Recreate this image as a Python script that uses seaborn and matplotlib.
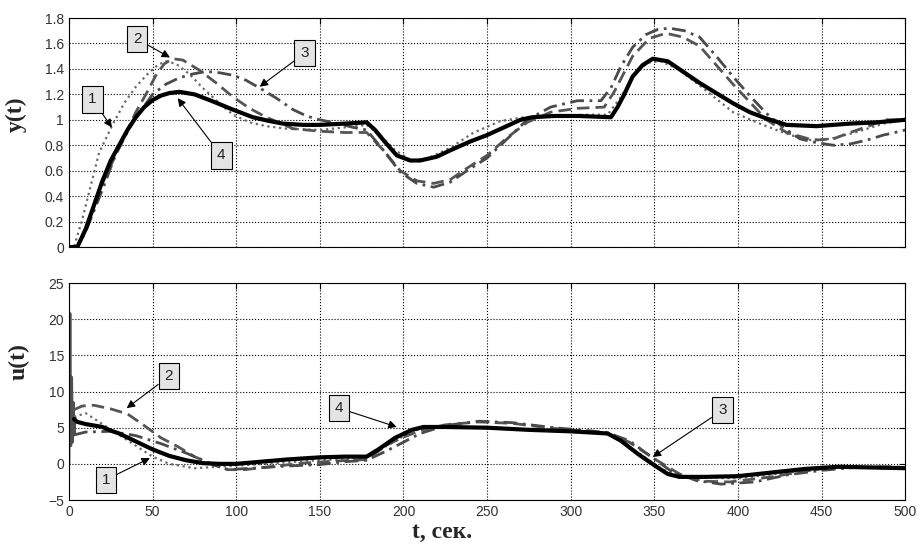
import numpy as np
import matplotlib
matplotlib.use("Agg")
import matplotlib.pyplot as plt
import seaborn as sns

# ---- top panel y(t) ----
y1_t = [0, 3, 8, 13, 18, 26, 33, 40, 47, 53, 58, 64, 72, 80, 90, 98, 108, 118, 130, 150, 165, 178,
        186, 195, 205, 215, 228, 242, 258, 272, 290, 310, 322, 330, 338, 346, 354, 364, 378, 397, 413,
        427, 441, 455, 470, 487, 500]
y1_v = [0, 0, 0.22, 0.48, 0.74, 0.96, 1.13, 1.26, 1.36, 1.43, 1.46, 1.44, 1.36, 1.25, 1.13, 1.04, 0.98,
        0.95, 0.93, 0.92, 0.94, 0.96, 0.88, 0.76, 0.68, 0.7, 0.78, 0.9, 0.99, 1.02, 1.03, 1.04, 1.04, 1.18,
        1.35, 1.45, 1.46, 1.4, 1.26, 1.06, 0.97, 0.9, 0.84, 0.85, 0.9, 0.97, 1.0]

y2_t = [0, 5, 10, 20, 30, 40, 46, 52, 57, 62, 68, 78, 88, 98, 108, 118, 134, 150, 165, 178,
        188, 198, 208, 218, 228, 238, 250, 262, 274, 288, 304, 320, 326, 337, 347, 357, 367, 377, 397,
        417, 429, 445, 457, 467, 478, 488, 500]
y2_v = [0, 0, 0.15, 0.5, 0.78, 1.06, 1.2, 1.35, 1.44, 1.48, 1.47, 1.39, 1.29, 1.18, 1.09, 1.02, 0.93,
        0.91, 0.9, 0.9, 0.76, 0.6, 0.52, 0.5, 0.53, 0.62, 0.72, 0.86, 0.98, 1.06, 1.09, 1.1, 1.22, 1.5,
        1.64, 1.68, 1.65, 1.58, 1.28, 1.0, 0.9, 0.84, 0.85, 0.9, 0.95, 1.0, 1.0]

y3_t = [0, 5, 10, 20, 28, 38, 50, 58, 66, 74, 82, 90, 98, 106, 114, 124, 134, 142, 150, 161, 170, 178,
        188, 198, 208, 218, 228, 238, 250, 262, 274, 288, 304, 318, 324, 330, 337, 345, 352, 359, 368,
        377, 387, 397, 407, 417, 427, 437, 447, 457, 467, 477, 487, 497, 500]
y3_v = [0, 0, 0.12, 0.45, 0.73, 0.98, 1.2, 1.28, 1.33, 1.36, 1.38, 1.37, 1.35, 1.31, 1.25, 1.17, 1.08,
        1.03, 1.0, 0.97, 0.94, 0.92, 0.76, 0.59, 0.5, 0.47, 0.51, 0.6, 0.7, 0.85, 1.0, 1.1, 1.15, 1.15,
        1.25, 1.42, 1.57, 1.67, 1.71, 1.72, 1.7, 1.65, 1.5, 1.34, 1.19, 1.05, 0.94, 0.85, 0.82, 0.8, 0.81,
        0.84, 0.88, 0.91, 0.92]

y4_t = [0, 5, 10, 15, 20, 25, 30, 35, 40, 45, 50, 55, 60, 66, 75, 85, 98, 110, 120, 128, 140, 150, 165,
        178, 183, 188, 196, 204, 210, 220, 228, 240, 250, 260, 270, 277, 290, 305, 324, 328, 332, 337,
        343, 349, 358, 367, 377, 387, 397, 407, 417, 429, 447, 467, 483, 500]
y4_v = [0, 0, 0.14, 0.33, 0.52, 0.68, 0.8, 0.92, 1.02, 1.1, 1.155, 1.19, 1.21, 1.22, 1.2, 1.15, 1.08,
        1.02, 0.99, 0.97, 0.96, 0.96, 0.97, 0.98, 0.92, 0.84, 0.72, 0.68, 0.68, 0.71, 0.76, 0.83, 0.88,
        0.94, 1.0, 1.02, 1.03, 1.03, 1.02, 1.1, 1.2, 1.34, 1.43, 1.48, 1.46, 1.38, 1.29, 1.21, 1.13, 1.06,
        1.01, 0.96, 0.95, 0.97, 0.98, 1.0]

# ---- bottom panel u(t) ----
u1_t = [3, 10, 20, 30, 40, 50, 60, 75, 90, 110, 130, 150, 178, 190, 205, 215, 250, 300, 322, 340,
        355, 370, 400, 430, 460, 500]
u1_v = [6.5, 7.0, 5.5, 4.0, 2.5, 1.0, 0.0, -0.6, -0.4, -0.1, 0.2, 0.5, 0.8, 2.5, 4.5, 5.1, 5.0, 4.4,
        4.2, 1.6, -0.8, -1.9, -2.0, -1.2, -0.5, -0.6]

u2_t = [3, 8, 15, 25, 35, 45, 55, 65, 75, 85, 95, 105, 120, 140, 160, 178, 190, 200, 210, 225, 245,
        265, 290, 310, 322, 335, 350, 365, 380, 395, 420, 440, 460, 480, 500]
u2_v = [7.5, 8.0, 8.1, 7.6, 6.9, 5.3, 3.6, 2.4, 1.0, 0.0, -0.8, -0.8, -0.4, 0.1, 0.4, 0.6, 2.6, 3.7,
        4.6, 5.4, 5.8, 5.6, 4.9, 4.5, 4.2, 3.0, 0.7, -1.4, -2.4, -2.5, -1.8, -1.0, -0.4, -0.5, -0.6]

u3_t = [3, 10, 25, 40, 55, 70, 85, 95, 110, 130, 150, 165, 178, 190, 200, 210, 225, 245, 265, 290, 310,
        322, 335, 348, 360, 375, 390, 410, 430, 450, 470, 490, 500]
u3_v = [4.0, 4.4, 4.5, 3.9, 2.8, 1.5, 0.0, -0.8, -0.6, -0.3, -0.1, 0.3, 0.5, 1.8, 3.0, 4.2, 5.3, 5.9,
        5.7, 5.0, 4.6, 4.3, 3.2, 1.0, -1.0, -2.3, -2.8, -2.5, -1.5, -0.9, -0.5, -0.4, -0.5]

u4_t = [3, 5, 10, 20, 25, 30, 40, 50, 60, 70, 80, 90, 100, 115, 130, 150, 165, 178, 185, 195, 205, 212,
        225, 250, 275, 300, 322, 330, 340, 350, 358, 365, 380, 400, 420, 440, 460, 480, 500]
u4_v = [6.2, 5.8, 5.5, 5.1, 4.6, 4.2, 3.1, 2.0, 1.1, 0.5, 0.1, 0.0, 0.0, 0.3, 0.6, 0.9, 1.0, 1.0, 2.0,
        3.6, 4.7, 5.1, 5.1, 5.0, 4.7, 4.5, 4.2, 3.2, 1.4, -0.2, -1.4, -1.8, -1.8, -1.7, -1.2, -0.7, -0.4,
        -0.5, -0.6]

# start-up spike of the control signal
spike_t = [0, 0.6, 1.1, 1.6, 2.1, 2.6, 3.1, 3.6]
spike_v = [0, 20.8, 2.5, 12.0, 3.0, 8.5, 4.0, 6.5]

# callout labels: (text, box x, box y, arrow x, arrow y)
top_notes = [("1", 14, 1.16, 25.7, 0.94), ("2", 40.7, 1.635, 60.4, 1.49),
             ("3", 141, 1.525, 114, 1.26), ("4", 91, 0.72, 65, 1.17)]
bot_notes = [("2", 59.8, 12.1, 34.5, 7.7), ("1", 22.1, -2.2, 48.4, 0.8),
             ("4", 161.5, 7.7, 196, 5.1), ("3", 390.6, 7.4, 349, 0.95)]

sns.set_style("white")
plt.rcParams['font.family'] = ['Liberation Sans', 'DejaVu Sans']

fig = plt.figure(figsize=(9.17, 5.46), dpi=100)
ax1 = fig.add_axes([0.0752, 0.5476, 0.912, 0.4194])
ax2 = fig.add_axes([0.0752, 0.0842, 0.912, 0.3974])

styles = [dict(color='#6a6a6a', linestyle=':', linewidth=1.6),
          dict(color='#555555', linestyle=(0, (4.5, 2.2)), linewidth=2.0),
          dict(color='#4a4a4a', linestyle=(0, (5, 2, 1, 2)), linewidth=2.0),
          dict(color='black', linestyle='-', linewidth=3.0)]

for (t, v), st in zip([(y1_t, y1_v), (y2_t, y2_v), (y3_t, y3_v), (y4_t, y4_v)], styles):
    sns.lineplot(x=t, y=v, ax=ax1, **st)

sns.lineplot(x=spike_t, y=spike_v, ax=ax2, color='#505050', linewidth=2.0)
for (t, v), st in zip([(u1_t, u1_v), (u2_t, u2_v), (u3_t, u3_v), (u4_t, u4_v)], styles):
    sns.lineplot(x=t, y=v, ax=ax2, **st)

box = dict(boxstyle='square,pad=0.4', fc='#e4e4e4', ec='black', lw=0.8)
arrow = dict(arrowstyle='-|>', color='black', lw=0.8, shrinkA=0, shrinkB=0, mutation_scale=12)
for ax, notes in [(ax1, top_notes), (ax2, bot_notes)]:
    for txt, bx, by, ax_, ay in notes:
        ax.annotate(txt, xy=(ax_, ay), xytext=(bx, by), fontsize=11, ha='center', va='center',
                    bbox=box, arrowprops=arrow, color='#222222')

for ax in (ax1, ax2):
    ax.set_xlim(0, 500)
    ax.set_xticks(np.arange(0, 501, 50))
    ax.grid(True, color='black', linestyle=':', linewidth=0.8)
    ax.tick_params(direction='in', top=True, right=True, length=4, width=0.8,
                   labelsize=10, labelcolor='#333333', color='black')
    for s in ax.spines.values():
        s.set_color('black')
        s.set_linewidth(0.8)

ax1.set_ylim(0, 1.8)
ax1.set_yticks(np.arange(0, 1.81, 0.2))
ax1.set_yticklabels(['0', '0.2', '0.4', '0.6', '0.8', '1', '1.2', '1.4', '1.6', '1.8'])
ax1.set_xticklabels([])
ax2.set_ylim(-5, 25)
ax2.set_yticks(np.arange(-5, 26, 5))

lab = dict(fontsize=17, fontweight='bold', family='Liberation Serif')
ax1.set_ylabel('y(t)', **lab)
ax1.yaxis.set_label_coords(-0.05, 0.58)
ax2.set_ylabel('u(t)', **lab)
ax2.yaxis.set_label_coords(-0.047, 0.636)
ax2.set_xlabel('t, сек.', **lab)
ax2.xaxis.set_label_coords(0.446, -0.1)

fig.savefig('out.png', dpi=100)
